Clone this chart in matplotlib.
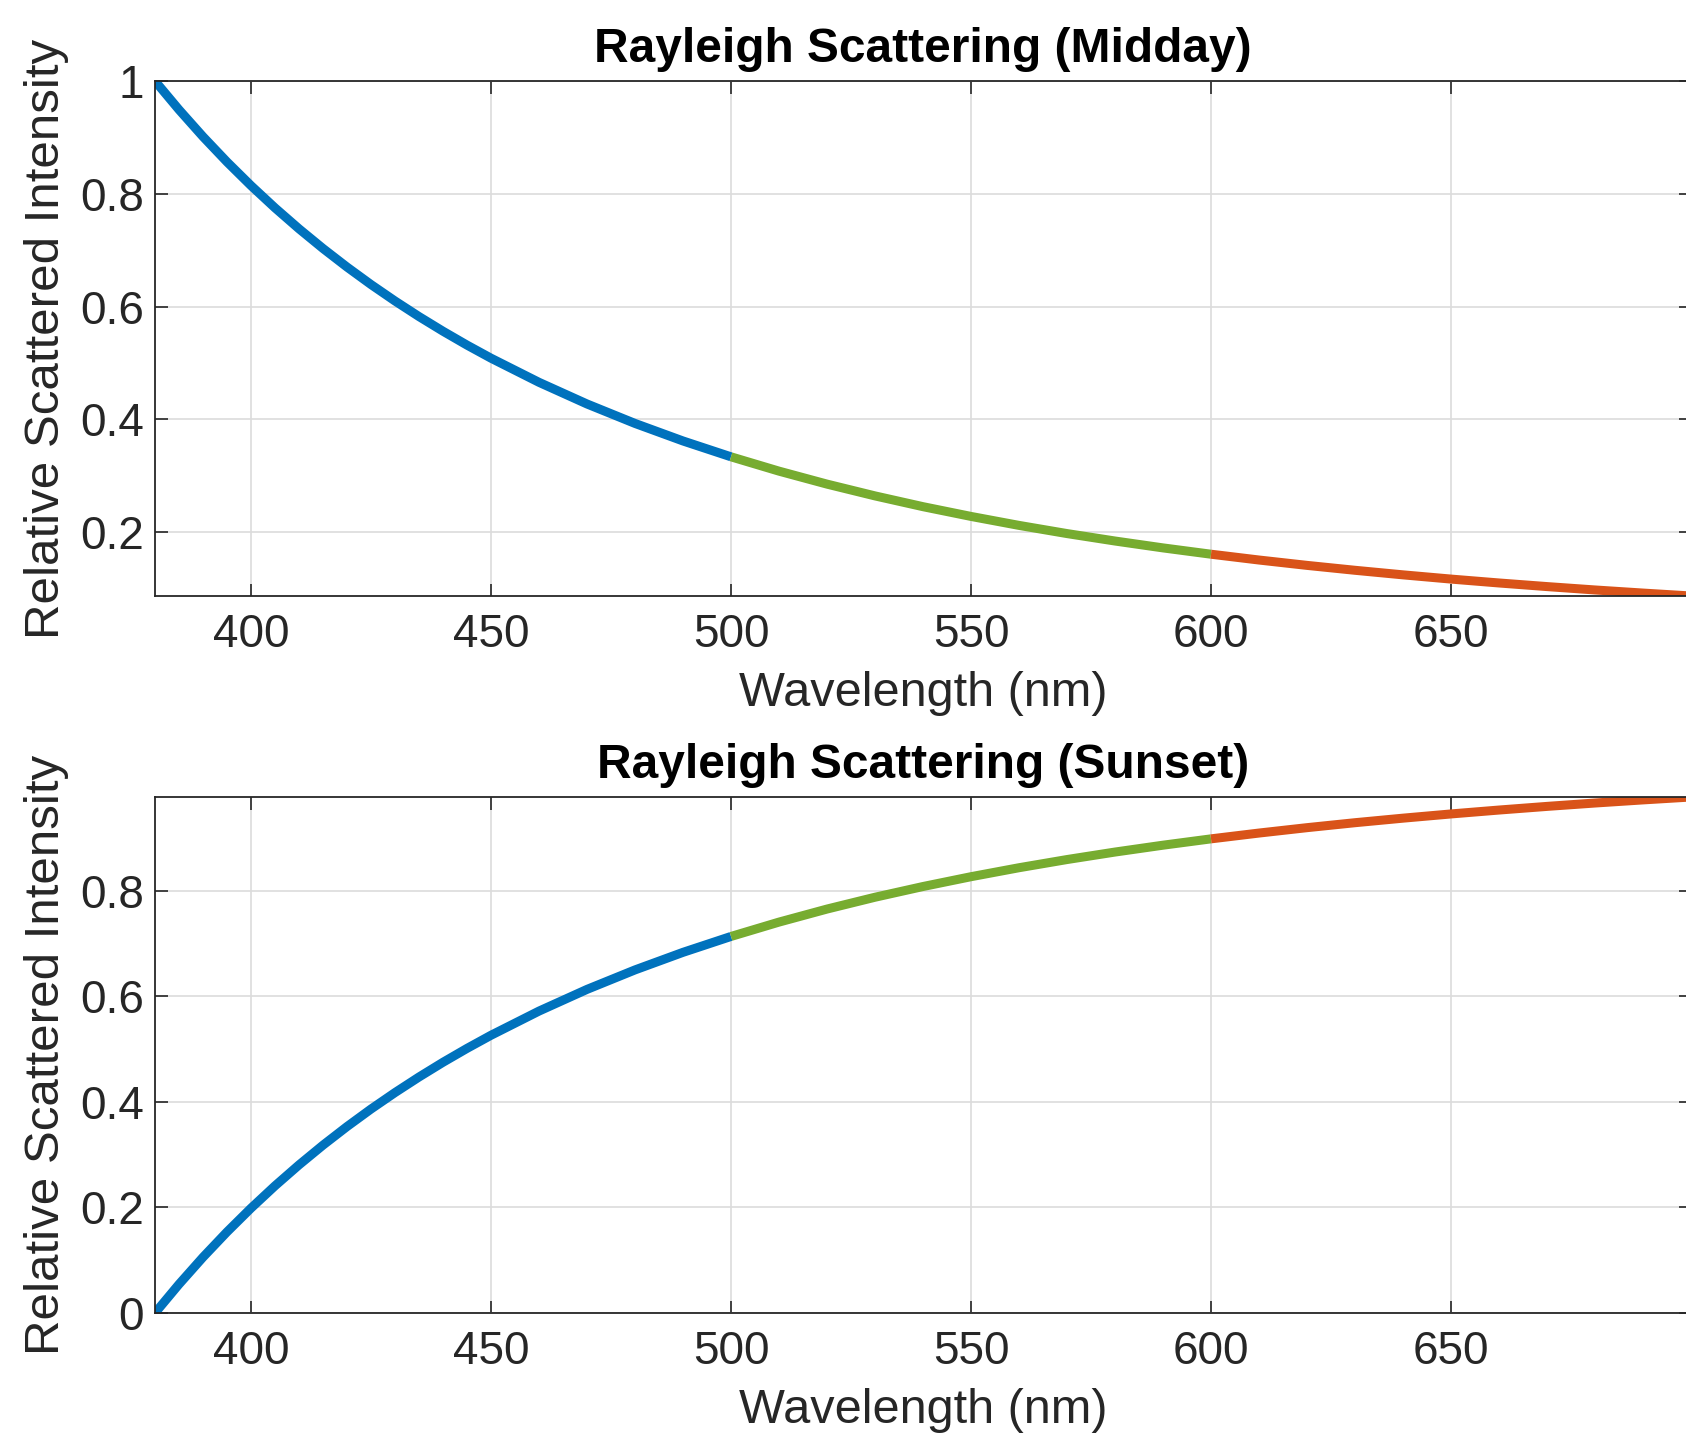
import matplotlib
matplotlib.use("Agg")
import matplotlib.pyplot as plt

wavelength = [380, 385, 390, 395, 400, 405, 410, 415, 420, 425, 430, 435, 440, 445,
              450, 460, 470, 480, 490, 500,
              510, 520, 530, 540, 550, 560, 570, 580, 590, 600,
              610, 620, 630, 640, 650, 660, 670, 680, 690, 700]
midday = [1.0000, 0.9491, 0.9013, 0.8565, 0.8145, 0.7750, 0.7379, 0.7030, 0.6701,
          0.6391, 0.6099, 0.5823, 0.5563, 0.5317, 0.5085, 0.4657,
          0.4273, 0.3928, 0.3617, 0.3336, 0.3082, 0.2852, 0.2643, 0.2452, 0.2279,
          0.2120, 0.1975, 0.1843, 0.1721, 0.1609, 0.1506, 0.1411, 0.1324, 0.1243,
          0.1168, 0.1099, 0.1035, 0.0975, 0.0920, 0.0868]
sunset = [0.0000, 0.0545, 0.1057, 0.1536, 0.1986, 0.2409, 0.2806, 0.3180, 0.3532,
          0.3864, 0.4176, 0.4471, 0.4750, 0.5013, 0.5262, 0.5720,
          0.6131, 0.6500, 0.6833, 0.7134, 0.7406, 0.7653, 0.7877, 0.8080, 0.8266,
          0.8436, 0.8591, 0.8733, 0.8863, 0.8983, 0.9093, 0.9195, 0.9289, 0.9375,
          0.9455, 0.9529, 0.9598, 0.9662, 0.9721, 0.9776]
band_edges = [380, 500, 600, 700]
band_colors = ["#0072BD", "#77AC30", "#D95319"]
titles = ["Rayleigh Scattering (Midday)", "Rayleigh Scattering (Sunset)"]
xticks = [400, 450, 500, 550, 600, 650]

plt.rcParams['font.family'] = ['Liberation Sans', 'DejaVu Sans']
W, H = 1686, 1433
fig = plt.figure(figsize=(W / 100, H / 100), dpi=100)
txt = "#262626"

boxes = [(155, 81, 1691, 596), (155, 797, 1691, 1313)]
series = [midday, sunset]
yticks_list = [[0.2, 0.4, 0.6, 0.8, 1.0], [0, 0.2, 0.4, 0.6, 0.8]]
ytl_list = [["0.2", "0.4", "0.6", "0.8", "1"], ["0", "0.2", "0.4", "0.6", "0.8"]]

for (l, t, r, b), ys, title, yt, ytl in zip(boxes, series, titles, yticks_list, ytl_list):
    ax = fig.add_axes([l / W, 1 - b / H, (r - l) / W, (b - t) / H])
    for i in range(3):
        xs = [x for x in wavelength if band_edges[i] <= x <= band_edges[i + 1]]
        vs = [v for x, v in zip(wavelength, ys) if band_edges[i] <= x <= band_edges[i + 1]]
        ax.plot(xs, vs, color=band_colors[i], lw=6.5, solid_capstyle='butt',
                solid_joinstyle='round', clip_on=True)
    ax.set_xlim(380, 700)
    ax.set_ylim(min(ys), max(ys))
    ax.set_xticks(xticks)
    ax.set_yticks(yt)
    ax.set_yticklabels(ytl)
    ax.grid(True, color="#dcdcdc", lw=1.2)
    ax.set_axisbelow(True)
    ax.tick_params(direction='in', length=9, width=1.2, colors=txt, labelsize=33,
                   top=True, right=True)
    ax.tick_params(axis='x', pad=12)
    ax.tick_params(axis='y', pad=8)
    for s in ax.spines.values():
        s.set_color(txt)
        s.set_linewidth(1.3)
    ax.set_title(title, fontsize=34.5, fontweight='bold', color='black', pad=14)
    ax.set_xlabel("Wavelength (nm)", fontsize=35, color=txt, labelpad=10)
    ax.set_ylabel("Relative Scattered Intensity", fontsize=35.5, color=txt, labelpad=8)

fig.savefig("out.png", dpi=100, facecolor="white")
